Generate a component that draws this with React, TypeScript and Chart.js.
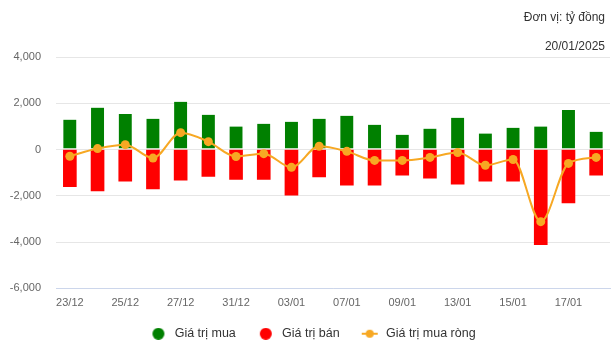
import React, { useEffect, useRef } from "react";
import { Chart, registerables } from "chart.js";

Chart.register(...registerables);

const categories = ["23/12","24/12","25/12","26/12","27/12","30/12","31/12","02/01","03/01","06/01","07/01","08/01","09/01","10/01","13/01","14/01","15/01","16/01","17/01","20/01"];
const buyValues = [1290,1810,1540,1330,2060,1500,990,1110,1200,1330,1460,1070,640,900,1370,690,940,990,1710,770];
const sellValues = [-1610,-1790,-1370,-1700,-1330,-1160,-1290,-1290,-1970,-1190,-1540,-1540,-1110,-1240,-1500,-1370,-1370,-4110,-2310,-1110];
const netValues = [-290,40,210,-370,730,340,-300,-180,-770,140,-80,-470,-470,-340,-130,-680,-430,-3120,-600,-340];
const seriesNames = ["Giá trị mua", "Giá trị bán", "Giá trị mua ròng"];
const unitText = "Đơn vị: tỷ đồng";
const dateText = "20/01/2025";

const GREEN = "#008000";
const RED = "#ff0000";
const ORANGE = "#f7a823";
const FONT = "'Liberation Sans', Arial, sans-serif";

function circleIcon(color: string) {
  const c = document.createElement("canvas");
  c.width = 30; c.height = 12;
  const ctx = c.getContext("2d")!;
  ctx.fillStyle = color;
  ctx.beginPath();
  ctx.arc(20, 6, 6, 0, Math.PI * 2);
  ctx.fill();
  return c;
}
function lineIcon(color: string) {
  const c = document.createElement("canvas");
  c.width = 30; c.height = 12;
  const ctx = c.getContext("2d")!;
  ctx.strokeStyle = color;
  ctx.lineWidth = 2;
  ctx.beginPath();
  ctx.moveTo(12, 6); ctx.lineTo(28, 6);
  ctx.stroke();
  ctx.fillStyle = color;
  ctx.beginPath();
  ctx.arc(20, 6, 4, 0, Math.PI * 2);
  ctx.fill();
  return c;
}

const headerPlugin = {
  id: "header",
  afterDraw(chart: any) {
    const ctx = chart.ctx;
    ctx.save();
    ctx.fillStyle = "#333";
    ctx.font = `12px ${FONT}`;
    ctx.textAlign = "right";
    ctx.textBaseline = "middle";
    ctx.fillText(unitText, chart.width - 10, 18);
    ctx.fillText(dateText, chart.width - 10, 47);
    ctx.restore();
  },
};

export default function App() {
  const ref = useRef<HTMLCanvasElement>(null);
  useEffect(() => {
    const icons = [circleIcon(GREEN), circleIcon(RED), lineIcon(ORANGE)];
    const chart = new Chart(ref.current!, {
      type: "bar",
      data: {
        labels: categories,
        datasets: [
          {
            type: "bar",
            label: seriesNames[0],
            data: buyValues,
            backgroundColor: GREEN,
            borderColor: "#ffffff",
            borderWidth: { top: 0, left: 0, right: 0, bottom: 1 },
            borderSkipped: false,
            barThickness: 13,
            stack: "s",
            order: 2,
          },
          {
            type: "bar",
            label: seriesNames[1],
            data: sellValues,
            backgroundColor: RED,
            borderWidth: 0,
            barThickness: 13,
            stack: "s",
            order: 2,
          },
          {
            type: "line",
            label: seriesNames[2],
            data: netValues,
            borderColor: ORANGE,
            backgroundColor: ORANGE,
            borderWidth: 2,
            pointRadius: 4.5,
            pointBorderWidth: 0,
            cubicInterpolationMode: "monotone",
            stack: "line",
            order: 1,
          },
        ] as any,
      },
      options: {
        animation: false,
        responsive: true,
        maintainAspectRatio: false,
        layout: { padding: { top: 57, right: 5, left: 4, bottom: 12 } },
        font: { family: FONT },
        scales: {
          x: {
            stacked: true,
            grid: { display: false, drawTicks: false },
            border: { display: true, color: "#ccd6eb" },
            ticks: {
              autoSkip: false,
              maxRotation: 0,
              padding: 8,
              color: "#666",
              font: { size: 11, family: FONT },
              callback: (_v: any, i: number) => (i % 2 === 0 ? categories[i] : ""),
            },
          },
          y: {
            stacked: true,
            min: -6000,
            max: 4000,
            afterFit: (s: any) => { s.width = 52; },
            grid: { color: "#e6e6e6", drawTicks: false },
            border: { display: false },
            ticks: {
              stepSize: 2000,
              padding: 15,
              color: "#666",
              font: { size: 11, family: FONT },
            },
          },
        },
        plugins: {
          title: { display: false },
          tooltip: { enabled: false },
          legend: {
            position: "bottom",
            labels: {
              usePointStyle: true,
              pointStyleWidth: 30,
              padding: 10,
              color: "#333",
              font: { size: 12.5, family: FONT },
              generateLabels: (ch: any) =>
                ch.data.datasets.map((ds: any, i: number) => ({
                  text: ds.label,
                  pointStyle: icons[i],
                  fillStyle: "transparent",
                  strokeStyle: "transparent",
                  lineWidth: 0,
                  hidden: false,
                  datasetIndex: i,
                  fontColor: "#333",
                })),
            },
          },
        },
      } as any,
      plugins: [headerPlugin],
    });
    return () => chart.destroy();
  }, []);
  return (
    <div style={{ position: "fixed", left: 0, top: 0, width: 615, height: 362, background: "#fff" }}>
      <canvas ref={ref} />
    </div>
  );
}
